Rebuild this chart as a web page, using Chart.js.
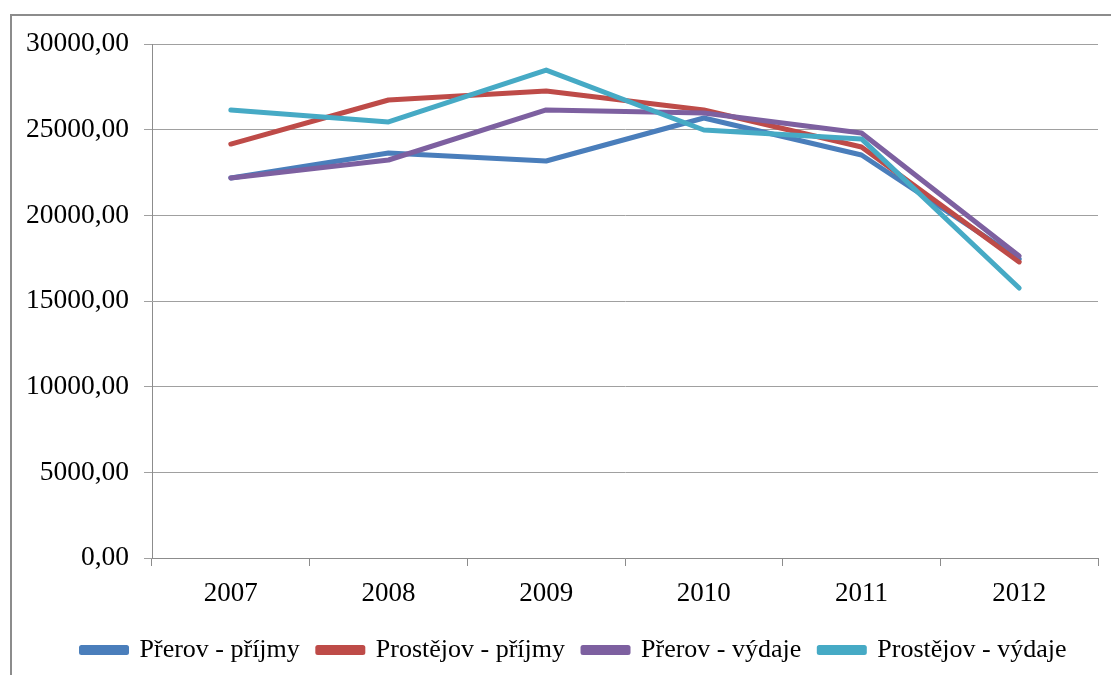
<!DOCTYPE html>
<html>
<head>
<meta charset="utf-8">
<script src="https://cdn.jsdelivr.net/npm/chart.js@4/dist/chart.umd.min.js"></script>
<style>
    html, body { margin: 0; padding: 0; background: #fff; overflow: hidden; }
    #wrap { position: relative; width: 1111px; height: 675px; }
    #ramecek { position: absolute; left: 10px; top: 14px; width: 1200px; height: 800px; border: 2px solid #8c8c8c; pointer-events: none; }
</style>
</head>
<body>
<div id="wrap">
    <canvas id="grafik" width="1111" height="675"></canvas>
    <div id="ramecek"></div>
</div>
<script>
const roky = ["2007", "2008", "2009", "2010", "2011", "2012"];
const prerovPrijmy = [22180, 23640, 23170, 25680, 23520, 17450];
const prostejovPrijmy = [24160, 26730, 27260, 26150, 23990, 17280];
const prerovVydaje = [22180, 23230, 26150, 25970, 24800, 17630];
const prostejovVydaje = [26150, 25450, 28480, 24980, 24460, 15760];

const pismo = '"Liberation Serif", "Times New Roman", serif';

function formatCislo(v) {
    return v.toFixed(2).replace('.', ',');
}

// posune legendu trochu doprava, jako v Excelu
const posunLegendy = {
    id: 'posunLegendy',
    afterLayout(chart) {
        if (chart.legend) {
            chart.legend.left += 25;
            chart.legend.right += 25;
        }
    }
};

const ctx = document.getElementById("grafik").getContext("2d");

const chart = new Chart(ctx, {
    type: 'line',
    data: {
        labels: roky,
        datasets: [{
                label: 'Přerov - příjmy',
                data: prerovPrijmy,
                borderColor: '#4a7ebb',
                backgroundColor: '#4a7ebb',
                order: 4
            },
            {
                label: 'Prostějov - příjmy',
                data: prostejovPrijmy,
                borderColor: '#be4b48',
                backgroundColor: '#be4b48',
                order: 3
            },
            {
                label: 'Přerov - výdaje',
                data: prerovVydaje,
                borderColor: '#7d60a0',
                backgroundColor: '#7d60a0',
                order: 2
            },
            {
                label: 'Prostějov - výdaje',
                data: prostejovVydaje,
                borderColor: '#46aac5',
                backgroundColor: '#46aac5',
                order: 1
            }
        ]
    },
    options: {
        responsive: false,
        animation: false,
        elements: {
            line: { borderWidth: 5, tension: 0, borderCapStyle: 'round', borderJoinStyle: 'round', fill: false },
            point: { radius: 0, hoverRadius: 0 }
        },
        layout: {
            padding: { top: 44, right: 13, bottom: 2, left: 0 }
        },
        plugins: {
            tooltip: { enabled: false },
            legend: {
                position: 'bottom',
                labels: {
                    color: '#000',
                    font: { family: pismo, size: 26 },
                    boxWidth: 45,
                    boxHeight: 5,
                    padding: 18,
                    sort: (a, b) => a.datasetIndex - b.datasetIndex
                }
            }
        },
        scales: {
            x: {
                offset: true,
                grid: {
                    offset: true,
                    drawOnChartArea: false,
                    drawTicks: true,
                    tickLength: 8,
                    color: '#8c8c8c'
                },
                border: { color: '#8c8c8c', width: 1 },
                ticks: {
                    color: '#000',
                    font: { family: pismo, size: 27 },
                    padding: 12,
                    maxRotation: 0
                },
                afterFit: (scale) => { scale.height = 61; }
            },
            y: {
                min: 0,
                max: 30000,
                grid: {
                    color: '#a0a0a0',
                    tickLength: 8
                },
                border: { color: '#8c8c8c', width: 1 },
                ticks: {
                    stepSize: 5000,
                    color: '#000',
                    font: { family: pismo, size: 27.5 },
                    padding: 15,
                    callback: (v) => formatCislo(v)
                },
                afterFit: (scale) => { scale.width = 152; }
            }
        }
    },
    plugins: [posunLegendy]
});
</script>
</body>
</html>
